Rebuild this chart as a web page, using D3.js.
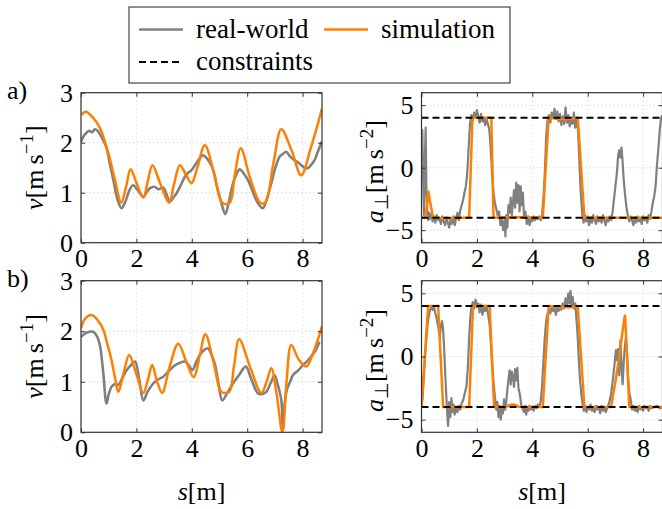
<!DOCTYPE html>
<html>
<head>
<meta charset="utf-8">
<script src="https://cdnjs.cloudflare.com/ajax/libs/d3/7.8.5/d3.min.js"></script>
<style>
  body { margin: 0; background: #fff; }
  svg text, svg tspan { font-family: "Liberation Serif" !important; }
</style>
</head>
<body>
<div id="canvas"></div>
<script>
"use strict"

/* chart size, same as the reference picture */
let svgWidth = 662;
let svgHeight = 509;

/* tick values for both kinds of panel */
let sTicks = [0, 2, 4, 6, 8];
let velTicks = [0, 1, 2, 3];
let accTicks = [-5, 0, 5];
let constraints = [-4, 4];

/* a) velocity, [s, v] */
let simVelA = [[0,2.55],[0.18,2.62],[0.4,2.52],[0.68,2.3],[0.98,1.8],[1.23,1.25],[1.45,0.8],[1.62,1.1],[1.79,1.47],[2.0,1.2],[2.25,0.9],[2.4,1.2],[2.58,1.55],[2.85,1.2],[3.18,0.8],[3.35,1.15],[3.57,1.55],[3.8,1.35],[3.99,1.19],[4.2,1.5],[4.47,1.95],[4.8,1.4],[5.1,0.8],[5.37,0.8],[5.55,1.35],[5.77,1.89],[6.1,1.3],[6.47,0.8],[6.65,0.8],[6.95,1.6],[7.23,2.27],[7.6,1.85],[7.95,1.35],[8.3,1.9],[8.7,2.68]];
let realVelA = [[0,2.02],[0.08,2.12],[0.2,2.2],[0.3,2.24],[0.4,2.21],[0.5,2.27],[0.6,2.24],[0.7,2.15],[0.8,2.05],[0.92,1.9],[1.05,1.55],[1.17,1.25],[1.3,0.9],[1.46,0.69],[1.6,0.82],[1.75,1.05],[1.88,1.15],[2.05,1.05],[2.25,0.92],[2.38,1.02],[2.49,1.09],[2.65,1.12],[2.8,1.07],[2.97,1.1],[3.1,0.95],[3.21,0.82],[3.33,0.9],[3.45,0.99],[3.6,1.15],[3.75,1.32],[3.87,1.4],[3.99,1.45],[4.15,1.58],[4.3,1.7],[4.41,1.75],[4.55,1.68],[4.65,1.6],[4.77,1.45],[4.92,1.1],[5.07,0.79],[5.21,0.57],[5.35,0.85],[5.49,1.19],[5.62,1.38],[5.73,1.47],[5.88,1.38],[6.03,1.25],[6.18,1.05],[6.33,0.85],[6.45,0.74],[6.57,0.69],[6.72,0.9],[6.87,1.19],[7.02,1.5],[7.17,1.72],[7.3,1.78],[7.41,1.82],[7.55,1.72],[7.71,1.65],[7.85,1.6],[7.95,1.55],[8.08,1.5],[8.19,1.49],[8.3,1.55],[8.43,1.65],[8.55,1.82],[8.7,2.03]];

/* a) lateral acceleration, [s, a] */
let simAccA = [[0,-4],[0.12,-4],[0.2,-3.0],[0.25,-1.9],[0.3,-2.6],[0.4,-3.8],[0.5,-4],[1.0,-4.05],[1.5,-4.0],[1.72,-4],[1.84,4],[2.2,4],[2.52,4],[2.6,-4],[3.3,-3.95],[4.38,-4],[4.59,4],[5.0,3.9],[5.4,3.9],[5.64,4],[5.88,-4],[7,-4],[8.7,-4]];
let realAccA = [[0,1.5],[0.03,3.0],[0.06,-1.0],[0.09,-3.8],[0.12,0.5],[0.15,3.2],[0.18,-2],[0.21,-3.5],[0.24,-4.2],[0.27,-3.6],[0.3,-4.1],[0.35,-3.7],[0.4,-4.3],[0.45,-3.9],[0.5,-4.4],[0.55,-3.8],[0.6,-4.2],[0.65,-4.0],[0.7,-4.5],[0.75,-3.9],[0.8,-4.3],[0.85,-4.6],[0.9,-4.0],[0.95,-4.4],[1.0,-4.8],[1.05,-4.1],[1.1,-4.5],[1.15,-3.9],[1.2,-4.6],[1.25,-4.0],[1.3,-3.6],[1.35,-4.2],[1.4,-3.4],[1.45,-3.0],[1.5,-2.6],[1.55,-2.0],[1.6,-1.5],[1.65,-0.5],[1.7,1.5],[1.75,3.5],[1.8,4.2],[1.85,3.8],[1.9,4.4],[1.95,4.0],[2.0,4.6],[2.05,4.1],[2.1,3.6],[2.15,4.3],[2.2,3.7],[2.25,4.0],[2.3,3.4],[2.35,3.9],[2.4,3.5],[2.45,3.0],[2.5,1.5],[2.55,-0.5],[2.6,-2.0],[2.65,-2.8],[2.7,-3.3],[2.75,-3.8],[2.8,-3.5],[2.85,-4.6],[2.9,-4.1],[2.95,-5.0],[3.0,-4.2],[3.03,-5.5],[3.06,-3.8],[3.1,-4.8],[3.14,-3.0],[3.18,-3.6],[3.22,-2.4],[3.26,-3.8],[3.3,-2.8],[3.34,-1.8],[3.38,-3.2],[3.42,-1.2],[3.46,-2.8],[3.5,-1.4],[3.54,-3.5],[3.58,-1.5],[3.62,-3.0],[3.66,-2.0],[3.7,-4.0],[3.75,-3.5],[3.8,-4.5],[3.85,-3.9],[3.9,-4.6],[3.95,-4.0],[4.0,-4.3],[4.05,-3.9],[4.1,-4.2],[4.15,-4.0],[4.2,-4.1],[4.25,-3.9],[4.3,-4.2],[4.35,-3.8],[4.4,-2.5],[4.45,-0.5],[4.5,2.5],[4.55,3.8],[4.6,4.2],[4.65,3.6],[4.7,4.4],[4.75,4.0],[4.8,4.7],[4.85,3.9],[4.9,4.5],[4.95,3.7],[5.0,4.3],[5.05,3.4],[5.1,4.1],[5.15,3.5],[5.2,4.8],[5.25,3.6],[5.3,4.2],[5.35,3.3],[5.4,4.0],[5.45,3.5],[5.5,4.4],[5.55,3.2],[5.6,3.9],[5.65,3.0],[5.7,0.5],[5.75,-2.0],[5.8,-3.6],[5.85,-4.4],[5.9,-3.8],[5.95,-4.3],[6.0,-3.9],[6.05,-4.6],[6.1,-4.0],[6.15,-4.4],[6.2,-3.8],[6.25,-4.2],[6.3,-4.5],[6.35,-3.9],[6.4,-4.3],[6.45,-4.0],[6.5,-4.4],[6.55,-3.8],[6.6,-4.2],[6.65,-4.6],[6.7,-4.0],[6.75,-4.3],[6.8,-3.9],[6.85,-4.2],[6.9,-3.5],[6.95,-2.5],[7.0,-1.5],[7.05,-0.5],[7.1,1.0],[7.14,1.4],[7.18,0.8],[7.22,1.6],[7.26,0.5],[7.3,-1.0],[7.35,-2.2],[7.4,-3.2],[7.45,-3.8],[7.5,-4.3],[7.55,-3.9],[7.6,-4.2],[7.65,-4.6],[7.7,-4.0],[7.75,-4.4],[7.8,-3.9],[7.85,-4.3],[7.9,-4.0],[7.95,-4.5],[8.0,-3.9],[8.05,-4.2],[8.1,-4.0],[8.15,-4.4],[8.2,-3.8],[8.25,-4.1],[8.3,-3.5],[8.35,-2.8],[8.4,-2.3],[8.45,-1.5],[8.5,0.2],[8.55,1.5],[8.6,3.0],[8.65,4.0],[8.7,4.2]];

/* b) velocity */
let simVelB = [[0,2.06],[0.15,2.25],[0.38,2.32],[0.6,2.22],[0.8,2.04],[0.95,1.75],[1.1,1.43],[1.22,1.1],[1.35,0.8],[1.55,1.2],[1.74,1.53],[2.0,1.15],[2.25,0.78],[2.42,1.05],[2.57,1.33],[2.75,1.0],[2.93,0.78],[3.2,1.3],[3.51,1.75],[3.8,1.4],[4.07,1.09],[4.28,1.5],[4.49,1.94],[4.8,1.35],[5.07,0.8],[5.35,0.8],[5.52,1.3],[5.71,1.84],[6.1,1.3],[6.51,0.78],[6.7,1.0],[6.87,1.27],[7.05,0.8],[7.27,0],[7.42,1.0],[7.59,1.73],[7.85,1.45],[8.13,1.3],[8.4,1.6],[8.7,2.1]];
let realVelB = [[0,1.89],[0.2,1.97],[0.44,1.99],[0.58,1.9],[0.68,1.73],[0.8,1.2],[0.92,0.57],[1.0,0.75],[1.1,0.9],[1.22,0.95],[1.35,0.94],[1.5,1.08],[1.65,1.23],[1.8,1.33],[1.95,1.4],[2.1,1.05],[2.25,0.63],[2.4,0.8],[2.61,0.97],[2.8,1.05],[2.97,1.1],[3.15,1.2],[3.33,1.3],[3.55,1.37],[3.75,1.4],[3.9,1.32],[4.02,1.23],[4.15,1.38],[4.29,1.53],[4.45,1.63],[4.59,1.66],[4.7,1.55],[4.83,1.36],[4.97,0.95],[5.1,0.63],[5.3,0.8],[5.49,0.97],[5.7,1.13],[5.95,1.3],[6.15,1.05],[6.39,0.77],[6.55,0.76],[6.69,0.8],[6.85,0.98],[6.99,1.13],[7.1,0.95],[7.23,0.64],[7.29,0.05],[7.35,0.55],[7.43,0.84],[7.55,1.0],[7.65,1.13],[7.85,1.23],[8.01,1.33],[8.15,1.4],[8.31,1.5],[8.45,1.6],[8.61,1.79]];

/* b) lateral acceleration */
let simAccB = [[0,-4],[0.24,4],[0.6,4],[0.78,-4],[1.72,-4],[1.86,4],[2.46,4],[2.62,-4],[3.06,-4],[3.15,-3.85],[3.3,-3.8],[3.45,-3.9],[3.54,-4],[4.38,-4],[4.59,4],[5.0,3.9],[5.4,3.9],[5.64,4],[5.88,-4],[6.84,-4],[7.0,-2.0],[7.14,0],[7.32,3.0],[7.35,3.25],[7.42,0],[7.5,-4],[8.7,-4]];
let realAccB = [[0,-4.0],[0.04,-3.2],[0.08,-1.8],[0.12,-0.3],[0.17,1.2],[0.21,2.3],[0.25,3.0],[0.3,3.6],[0.35,3.9],[0.4,3.7],[0.45,3.9],[0.5,3.4],[0.54,3.1],[0.6,2.4],[0.66,1.5],[0.7,2.4],[0.74,2.8],[0.78,2.2],[0.82,0.5],[0.86,-1.5],[0.9,-3.3],[0.93,-4.5],[0.96,-5.5],[1.0,-3.6],[1.04,-4.8],[1.08,-3.3],[1.12,-4.4],[1.16,-3.8],[1.2,-4.6],[1.25,-4.1],[1.3,-4.4],[1.35,-3.9],[1.4,-4.2],[1.45,-3.7],[1.5,-3.5],[1.55,-3.0],[1.62,-2.4],[1.67,-1.0],[1.72,1.5],[1.76,3.0],[1.8,3.9],[1.85,4.3],[1.9,3.8],[1.95,4.5],[2.0,3.9],[2.05,4.2],[2.1,3.5],[2.15,4.1],[2.2,3.3],[2.25,3.9],[2.3,3.6],[2.35,4.0],[2.4,3.4],[2.46,2.5],[2.52,0.5],[2.58,-1.5],[2.64,-3.0],[2.7,-4.2],[2.74,-3.6],[2.78,-4.8],[2.82,-3.9],[2.86,-5.0],[2.9,-4.0],[2.94,-4.5],[2.98,-3.4],[3.02,-4.2],[3.06,-3.6],[3.1,-2.6],[3.14,-1.8],[3.18,-1.1],[3.22,-2.2],[3.26,-1.2],[3.3,-1.6],[3.34,-2.4],[3.38,-1.0],[3.42,-1.9],[3.46,-0.9],[3.5,-2.5],[3.55,-3.0],[3.6,-3.8],[3.65,-4.1],[3.7,-4.4],[3.74,-3.9],[3.78,-4.6],[3.82,-4.0],[3.86,-4.3],[3.9,-3.9],[3.95,-4.2],[4.0,-4.0],[4.05,-4.3],[4.1,-3.9],[4.15,-4.1],[4.2,-3.8],[4.25,-4.0],[4.3,-3.6],[4.35,-2.4],[4.4,-0.5],[4.45,1.5],[4.5,2.8],[4.55,3.4],[4.6,3.7],[4.65,3.4],[4.7,3.9],[4.75,3.6],[4.8,3.8],[4.85,3.3],[4.9,3.9],[4.95,3.6],[5.0,4.0],[5.05,3.7],[5.1,4.2],[5.15,3.8],[5.2,4.6],[5.25,4.0],[5.3,5.0],[5.34,4.2],[5.38,5.2],[5.42,4.0],[5.46,4.7],[5.5,3.8],[5.55,4.2],[5.6,2.8],[5.64,1.5],[5.68,-0.3],[5.72,-1.8],[5.78,-3.2],[5.82,-3.8],[5.86,-4.3],[5.9,-3.9],[5.95,-4.4],[6.0,-4.0],[6.05,-4.2],[6.1,-3.8],[6.15,-4.3],[6.2,-4.0],[6.25,-4.4],[6.3,-3.9],[6.35,-4.2],[6.4,-4.0],[6.45,-4.5],[6.5,-3.9],[6.55,-4.3],[6.6,-4.0],[6.65,-4.4],[6.72,-4.0],[6.78,-3.6],[6.84,-3.0],[6.9,-2.0],[6.96,-0.8],[7.02,0.5],[7.06,-0.3],[7.1,0.6],[7.14,-1.5],[7.18,1.3],[7.22,-0.6],[7.26,-2.2],[7.3,-0.5],[7.34,0.8],[7.38,1.5],[7.42,0.2],[7.46,-1.8],[7.5,-2.8],[7.56,-3.5],[7.6,-4.2],[7.65,-3.9],[7.7,-4.3],[7.75,-4.0],[7.8,-4.4],[7.85,-3.9],[7.9,-4.2],[7.95,-4.0],[8.0,-4.3],[8.05,-3.9],[8.1,-4.1],[8.15,-4.0],[8.2,-4.3],[8.25,-3.9],[8.3,-4.1],[8.4,-4.0],[8.5,-3.9],[8.6,-4.1],[8.7,-4.0]];

/* colours and text */
let simColor = "rgb(255,127,0)";
let realColor = "rgb(128,128,128)";
let frameColor = "#333";
let serifName = "Liberation Serif";
let fontSize = 26;

let svg = d3.select("#canvas")
    .append("svg")
    .attr("width", svgWidth)
    .attr("height", svgHeight)
    .style("font-family", serifName);

let clipCount = 0;

/* draws one axis box with grid, ticks, lines */
function drawPanel(box, yDomain, yTicks, real, sim, curve, realWidth, withConstraints, yLabel, showXTitle) {
    let xScale = d3.scaleLinear().domain([0, 8.7]).range([box.x0, box.x1]);
    let yScale = d3.scaleLinear().domain(yDomain).range([box.y1, box.y0]);
    let g = svg.append("g");

    // dotted grid
    g.selectAll(null).data(sTicks).join("line")
        .attr("x1", d => xScale(d)).attr("x2", d => xScale(d))
        .attr("y1", box.y0).attr("y2", box.y1)
        .attr("stroke", "#c8c8c8").attr("stroke-dasharray", "1,3");
    g.selectAll(null).data(yTicks).join("line")
        .attr("x1", box.x0).attr("x2", box.x1)
        .attr("y1", d => yScale(d)).attr("y2", d => yScale(d))
        .attr("stroke", "#c8c8c8").attr("stroke-dasharray", "1,3");

    // clip for data
    clipCount++;
    let clipId = "clip" + clipCount;
    svg.append("clipPath").attr("id", clipId)
        .append("rect")
        .attr("x", box.x0).attr("y", box.y0)
        .attr("width", box.x1 - box.x0).attr("height", box.y1 - box.y0);
    let plot = g.append("g").attr("clip-path", "url(#" + clipId + ")");

    let line = d3.line()
        .x(d => xScale(d[0]))
        .y(d => yScale(d[1]))
        .curve(curve);

    plot.append("path").datum(real)
        .attr("d", line).attr("fill", "none")
        .attr("stroke", realColor).attr("stroke-width", realWidth)
        .attr("stroke-linejoin", "round");
    plot.append("path").datum(sim)
        .attr("d", line).attr("fill", "none")
        .attr("stroke", simColor).attr("stroke-width", 2.5)
        .attr("stroke-linejoin", "round");

    if (withConstraints) {
        plot.selectAll(null).data(constraints).join("line")
            .attr("x1", box.x0).attr("x2", box.x1)
            .attr("y1", d => yScale(d)).attr("y2", d => yScale(d))
            .attr("stroke", "#000").attr("stroke-width", 2)
            .attr("stroke-dasharray", "7,4");
    }

    // axes with inward ticks on all sides
    let tl = 4;
    let axes = [
        g.append("g").attr("transform", "translate(0," + box.y1 + ")")
            .call(d3.axisBottom(xScale).tickValues(sTicks).tickSize(-tl).tickPadding(6).tickFormat(d3.format("d"))),
        g.append("g").attr("transform", "translate(0," + box.y0 + ")")
            .call(d3.axisTop(xScale).tickValues(sTicks).tickSize(-tl).tickFormat("")),
        g.append("g").attr("transform", "translate(" + box.x0 + ",0)")
            .call(d3.axisLeft(yScale).tickValues(yTicks).tickSize(-tl).tickPadding(8).tickFormat(d => d < 0 ? "\u2212" + Math.abs(d) : d)),
        g.append("g").attr("transform", "translate(" + box.x1 + ",0)")
            .call(d3.axisRight(yScale).tickValues(yTicks).tickSize(-tl).tickFormat(""))
    ];
    axes.forEach(a => a.attr("font-family", null).attr("font-size", null));

    g.selectAll(".domain").remove();
    g.selectAll(".tick line").attr("stroke", frameColor);
    g.selectAll(".tick text")
        .style("font-family", serifName)
        .attr("font-size", fontSize).attr("fill", "#000");

    g.append("rect")
        .attr("x", box.x0).attr("y", box.y0)
        .attr("width", box.x1 - box.x0).attr("height", box.y1 - box.y0)
        .attr("fill", "none").attr("stroke", frameColor).attr("stroke-width", 1.2);

    // y label, rotated
    let cy = (box.y0 + box.y1) / 2;
    let lab = svg.append("text")
        .attr("transform", "translate(" + yLabel.x + "," + (cy + yLabel.dy) + ") rotate(-90)")
        .attr("text-anchor", "middle")
        .style("font-family", serifName)
        .attr("font-size", fontSize);
    lab.append("tspan").attr("font-style", "italic").text(yLabel.sym);
    if (yLabel.sub) {
        lab.append("tspan").attr("font-size", 19).attr("dy", 5).text(yLabel.sub);
        lab.append("tspan").attr("dy", -5).text("[m\u2009s");
    } else {
        lab.append("tspan").text("[m\u2009s");
    }
    lab.append("tspan").attr("font-size", 19).attr("dy", -10).text(yLabel.sup);
    lab.append("tspan").attr("dy", 10).text("]");

    if (showXTitle) {
        let xt = svg.append("text")
            .attr("x", (box.x0 + box.x1) / 2)
            .attr("y", 500)
            .attr("text-anchor", "middle")
            .style("font-family", serifName)
            .attr("font-size", fontSize);
        xt.append("tspan").attr("font-style", "italic").text("s");
        xt.append("tspan").text("[m]");
    }
}

let leftTop = { x0: 81, x1: 322, y0: 92.7, y1: 242.7 };
let rightTop = { x0: 421.5, x1: 662.5, y0: 92.7, y1: 242.7 };
let leftBot = { x0: 81, x1: 322, y0: 280.7, y1: 432.3 };
let rightBot = { x0: 421.5, x1: 662.5, y0: 280.7, y1: 432.3 };

let velLabel = { x: 43, dy: 0, sym: "v", sup: "\u22121" };
let accLabel = { x: 383, dy: 4, sym: "a", sub: "\u22a5", sup: "\u22122" };
let smooth = d3.curveCatmullRom.alpha(0.5);

drawPanel(leftTop, [0, 3], velTicks, realVelA, simVelA, smooth, 2.6, false, velLabel, false);
drawPanel(rightTop, [-6, 6], accTicks, realAccA, simAccA, d3.curveLinear, 2.2, true, accLabel, false);
drawPanel(leftBot, [0, 3], velTicks, realVelB, simVelB, smooth, 2.6, false, velLabel, true);
drawPanel(rightBot, [-6, 6], accTicks, realAccB, simAccB, d3.curveLinear, 2.2, true, accLabel, true);

/* panel letters */
svg.append("text").attr("x", 7).attr("y", 99).style("font-family", serifName).attr("font-size", fontSize).text("a)");
svg.append("text").attr("x", 7).attr("y", 287).style("font-family", serifName).attr("font-size", fontSize).text("b)");

/* legend */
let legend = svg.append("g");
legend.append("rect")
    .attr("x", 129).attr("y", 7).attr("width", 381).attr("height", 76)
    .attr("fill", "#fff").attr("stroke", "#444").attr("stroke-width", 1.2);

let legendItems = [
    { x: 139, y: 29.5, color: realColor, dash: null, w: 2.4, label: "real-world" },
    { x: 324, y: 29.5, color: simColor, dash: null, w: 2.5, label: "simulation" },
    { x: 139, y: 62, color: "#000", dash: "7,4", w: 2, label: "constraints" }
];
legendItems.forEach(function (it) {
    legend.append("line")
        .attr("x1", it.x).attr("x2", it.x + 44)
        .attr("y1", it.y).attr("y2", it.y)
        .attr("stroke", it.color).attr("stroke-width", it.w)
        .attr("stroke-dasharray", it.dash);
    legend.append("text")
        .attr("x", it.x + 57).attr("y", it.y + 8)
        .style("font-family", serifName)
        .attr("font-size", fontSize + 1)
        .text(it.label);
});
</script>
</body>
</html>
